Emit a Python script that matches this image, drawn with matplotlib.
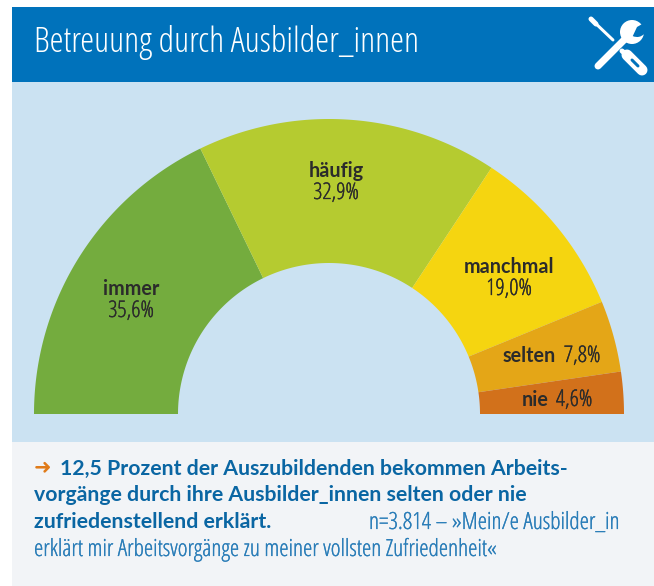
import numpy as np
import matplotlib
matplotlib.use("Agg")
import matplotlib.pyplot as plt
import matplotlib.patheffects as pe
from matplotlib.patches import Rectangle, Circle, Polygon, Wedge

categories = ["immer", "häufig", "manchmal", "selten", "nie"]
values = [35.6, 32.9, 19.0, 7.8, 4.6]
labels = ["35,6%", "32,9%", "19,0%", "7,8%", "4,6%"]
colors = ["#74AC3E", "#B5CB30", "#F5D510", "#E4A617", "#D2711B"]

W, H = 654, 586
plt.rcParams["font.family"] = ["Open Sans", "DejaVu Sans"]
plt.rcParams["font.stretch"] = "condensed"
fig = plt.figure(figsize=(W/100, H/100), dpi=100, facecolor="white")
ax = fig.add_axes([0, 0, 1, 1])
ax.set_xlim(0, W); ax.set_ylim(H, 0); ax.axis("off")

BLUE = "#0072BB"
ax.add_patch(Rectangle((12, 7), 642, 75, color=BLUE, lw=0))
ax.add_patch(Rectangle((12, 82), 642, 360, color="#CBE2F2", lw=0))
ax.add_patch(Rectangle((12, 442), 642, 144, color="#F2F4F7", lw=0))

ax.text(34, 43, "Betreuung durch Ausbilder_innen", color="white", fontsize=25.5, va="center")

cx, cy, R, r = 329, 414, 295, 151
start = 180.0
total = sum(values)
for c, v in zip(colors, values):
    sweep = v / total * 180
    th1, th2 = start - sweep, start
    t = np.radians(np.linspace(th1, th2, 120))
    xs = np.r_[cx + R*np.cos(t), cx + r*np.cos(t[::-1])]
    ys = np.r_[cy - R*np.sin(t), cy - r*np.sin(t[::-1])]
    ax.add_patch(Polygon(np.c_[xs, ys], closed=True, facecolor=c, edgecolor="none"))
    start = th1

tc = "#2B2B2B"
def thick(col, lw=0.2):
    return [pe.withStroke(linewidth=lw, foreground=col)]
def blab(x, y, t):
    ax.text(x, y, t, color=tc, ha="center", va="center", fontsize=14.2, family=["Lato"],
            fontweight="bold", stretch="normal")
def rlab(x, y, t):
    ax.text(x, y, t, color=tc, ha="center", va="center", fontsize=16.5, path_effects=thick(tc))
blab(131, 289, categories[0]); rlab(131, 311, labels[0])
blab(336, 171, categories[1]); rlab(336, 193, labels[1])
blab(509, 267, categories[2]); rlab(509, 289, labels[2])
blab(529, 356, categories[3]); rlab(582, 356, labels[3])
blab(535, 400, categories[4]); rlab(574, 400, labels[4])

# tools icon
w = "white"
px = 0.72
ax.plot([592, 613], [20, 40], color=w, lw=3*px, solid_capstyle="round")
ax.plot([591, 596], [19, 24], color=w, lw=5*px, solid_capstyle="round")
ax.plot([627, 642], [55, 70], color=w, lw=11*px, solid_capstyle="round")
ax.plot([622, 628], [51, 56], color=w, lw=5*px, solid_capstyle="round")
ax.plot([632, 638], [60, 66], color=BLUE, lw=3*px, solid_capstyle="round")
ax.plot([598, 627], [66, 37], color=w, lw=7*px, solid_capstyle="round")
ax.add_patch(Circle((632, 32), 12, color=w, lw=0))
ax.add_patch(Wedge((637, 27), 10, -30, 115, color=BLUE, lw=0))
ax.add_patch(Circle((599, 66), 1.5, color=BLUE, lw=0))

blue = "#0A66A3"
ax.text(34, 467, "➜", color="#E07B1A", fontsize=15, va="center", family=["DejaVu Sans"], stretch="normal")
for x, y, s in [(60, 469, "12,5 Prozent der Auszubildenden bekommen Arbeits-"),
                (34, 495, "vorgänge durch ihre Ausbilder_innen selten oder nie"),
                (34, 522, "zufriedenstellend erklärt.")]:
    ax.text(x, y, s, color=blue, fontsize=15.3, fontweight="bold", va="center", family=["Lato"], stretch="normal")
for x, y, s in [(369, 523, "n=3.814 – »Mein/e Ausbilder_in"),
                (34, 550, "erklärt mir Arbeitsvorgänge zu meiner vollsten Zufriedenheit«")]:
    ax.text(x, y, s, color="#2A7DB8", fontsize=17, va="center", path_effects=thick("#2A7DB8", 0.15))

fig.savefig("out.png", dpi=100, facecolor="white")
